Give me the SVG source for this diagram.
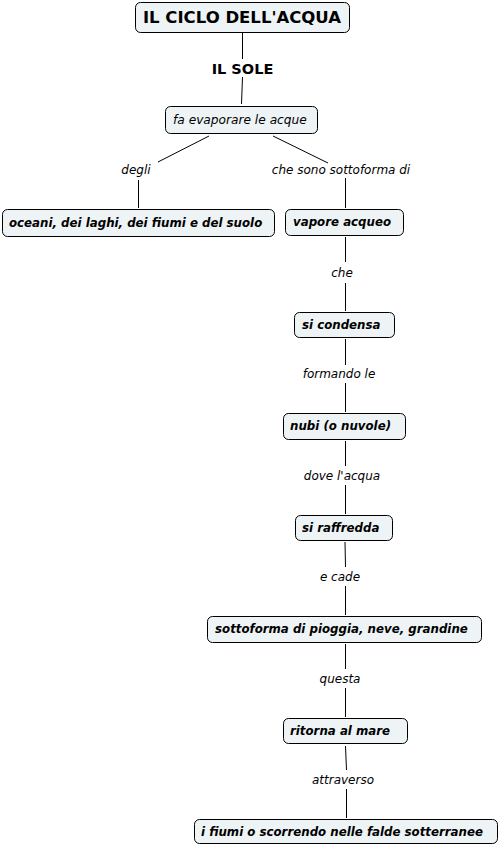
<svg xmlns="http://www.w3.org/2000/svg" width="500" height="844" viewBox="0 0 500 844">
<style>
.n{fill:#eef4f6;stroke:#000;stroke-width:1}
.t{font-family:"DejaVu Sans",Verdana,sans-serif;font-size:11.8px;font-weight:bold;font-style:italic;fill:#000}
.l{font-family:"DejaVu Sans",Verdana,sans-serif;font-size:12px;font-style:italic;fill:#000;text-anchor:middle}
.c{stroke:#000;stroke-width:1;fill:none}
</style>
<rect width="500" height="844" fill="#fff"/>
<g id="connectors">
<path class="c" d="M242.5 33V59M242.5 77L241.5 104"/>
<path class="c" d="M209 136L158 162M138.5 180V208"/>
<path class="c" d="M273 136L328 163M345.5 178V208"/>
<path class="c" d="M345.5 237V262M345.5 283V311"/>
<path class="c" d="M345.5 339V365M345.5 383V412"/>
<path class="c" d="M345.5 441V466M345.5 485V514"/>
<path class="c" d="M345 542L345.5 567M345.5 586V615"/>
<path class="c" d="M345.5 644V669M345.5 688V717"/>
<path class="c" d="M345.5 746L346.5 770M346.5 789V818"/>
<text class="l" x="136" y="174">degli</text>
<text class="l" x="341" y="174">che sono sottoforma di</text>
<text class="l" x="342" y="277">che</text>
<text class="l" x="339" y="378">formando le</text>
<text class="l" x="342" y="480">dove l'acqua</text>
<text class="l" x="340" y="581">e cade</text>
<text class="l" x="340" y="683">questa</text>
<text class="l" x="343" y="784">attraverso</text>
</g>
<g id="title"><rect class="n" x="135.5" y="2.5" width="214" height="30" rx="5"/><text x="242" y="23" text-anchor="middle" style="font-family:'DejaVu Sans',Verdana,sans-serif;font-size:16.5px;font-weight:bold">IL CICLO DELL'ACQUA</text></g>
<g id="sole"><text x="242.5" y="73.5" text-anchor="middle" style="font-family:'DejaVu Sans',Verdana,sans-serif;font-size:14.5px;font-weight:bold">IL SOLE</text></g>
<g id="evapora"><rect class="n" x="165.5" y="106.5" width="152" height="27" rx="5"/><text x="173" y="123.5" style="font-family:'DejaVu Sans',Verdana,sans-serif;font-size:12.2px;font-style:italic">fa evaporare le acque</text></g>
<g id="oceani"><rect class="n" x="2.5" y="209.5" width="272" height="27" rx="5"/><text class="t" x="9" y="226.5">oceani, dei laghi, dei fiumi e del suolo</text></g>
<g id="vapore"><rect class="n" x="285.5" y="209.5" width="118" height="26" rx="5"/><text class="t" x="293" y="225.5">vapore acqueo</text></g>
<g id="condensa"><rect class="n" x="294.5" y="312.5" width="100" height="25" rx="5"/><text class="t" x="302" y="328.5">si condensa</text></g>
<g id="nubi"><rect class="n" x="283.5" y="413.5" width="122" height="26" rx="5"/><text class="t" x="290" y="429.5">nubi (o nuvole)</text></g>
<g id="raffredda"><rect class="n" x="295.5" y="515.5" width="97" height="25" rx="5"/><text class="t" x="302" y="531.5">si raffredda</text></g>
<g id="pioggia"><rect class="n" x="207.5" y="616.5" width="274" height="26" rx="5"/><text class="t" x="215" y="632.5">sottoforma di pioggia, neve, grandine</text></g>
<g id="mare"><rect class="n" x="283.5" y="718.5" width="124" height="25" rx="5"/><text class="t" x="290" y="734.5">ritorna al mare</text></g>
<g id="fiumi"><rect class="n" x="194.5" y="819.5" width="303" height="24" rx="5"/><text class="t" x="201" y="835.5">i fiumi o scorrendo nelle falde sotterranee</text></g>
</svg>
